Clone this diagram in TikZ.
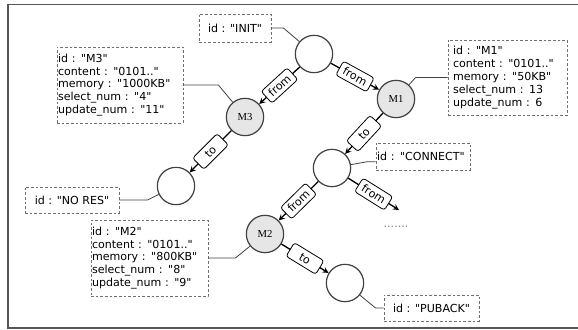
\documentclass[tikz,border=0pt]{standalone}
\usepackage{xcolor}
\usepackage{tikz}
\usepackage{fontspec}
\newfontfamily\infofont{DejaVu Sans}[Ligatures=TeXOff]
\newfontfamily\statefont{Liberation Serif}
\definecolor{frameGray}{HTML}{555555}
\definecolor{circleGray}{HTML}{404040}
\definecolor{msgFill}{HTML}{E6E6E6}
\definecolor{dashGray}{HTML}{707070}
\definecolor{linkGray}{HTML}{404040}
\tikzset{
  state/.style={circle,draw=circleGray,fill=white,line width=0.9pt,
    minimum size=28pt,inner sep=0pt},
  msgstate/.style={state,fill=msgFill,font=\statefont\fontsize{8}{9}\selectfont},
  info/.style={rectangle,draw=dashGray,dash pattern=on 2pt off 1.5pt,line width=0.6pt,
    fill=white,inner sep=0.75pt,font=\infofont\fontsize{8.3}{9.6}\selectfont},
  infoleft/.style={info,align=left},
  lbl/.style={rectangle,rounded corners=2pt,draw=black,fill=white,line width=0.6pt,sloped,
    inner xsep=3.5pt,inner ysep=2.5pt,minimum width=26pt,text height=1.5ex,text depth=0.1ex,
    font=\infofont\fontsize{8.3}{9.6}\selectfont},
  arrow/.style={->,>=stealth,line width=1pt},
  link/.style={draw=linkGray,line width=0.6pt}
}

\begin{document}
\begin{tikzpicture}[x=0.75pt,y=-0.75pt]
\useasboundingbox (0,0) rectangle (578,329);
\draw[frameGray,line width=1.1pt] (578,4.5) -- (8,4.5) -- (8,328) -- (578,328);

% states
\node[state] (init) at (314,54) {};
\node[msgstate] (m1) at (396,99) {M1};
\node[msgstate] (m3) at (245,117) {M3};
\node[state] (nores) at (176,186) {};
\node[state] (con) at (332,168) {};
\node[msgstate] (m2) at (265,234) {M2};
\node[state] (pub) at (345,283) {};
\coordinate (more) at (399,210);
\node[font=\infofont\fontsize{8.3}{9.6}\selectfont,text=gray] (dots) at (396,227) {.......};

% info boxes
\node[info,minimum width=54pt,minimum height=21pt] (initbox) at (235,28) {id : "INIT"};
\node[infoleft,text width=93pt,minimum height=57pt] (m3box) at (120,85)
  {id : "M3"\\content : "0101.."\\memory : "1000KB"\\select\_num : "4"\\update\_num : "11"};
\node[infoleft,inner xsep=3.75pt,text width=81.75pt,minimum height=56.25pt] (m1box) at (507.5,77.5)
  {id : "M1"\\content : "0101.."\\memory : "50KB"\\select\_num : 13\\update\_num : 6};
\node[infoleft,text width=69pt,minimum height=20.25pt] (conbox) at (423,156.5) {id : "CONNECT"};
\node[info,minimum width=70.5pt,minimum height=19.5pt] (noresbox) at (72,200) {id : "NO RES"};
\node[infoleft,text width=86.25pt,minimum height=57pt] (m2box) at (149.5,258)
  {id : "M2"\\content : "0101.."\\memory : "800KB"\\select\_num : "8"\\update\_num : "9"};
\node[info,minimum width=71.25pt,minimum height=19.5pt] (pubbox) at (431.5,308) {id : "PUBACK"};

% box links
\draw[link] (initbox.east) -- ++(12,0) -- (init);
\draw[link] (m3box.east) -- ++(35,0) -- (m3);
\draw[link] (m1box.west) -- ++(-32,0) -- (m1);
\draw[link] ([yshift=-4pt]conbox.west) -- ++(-9,0) -- (con);
\draw[link] (noresbox.east) -- ++(28,0) -- (nores);
\draw[link] (m2box.east) -- ++(27,0) -- (m2);
\draw[link] (pubbox.west) -- ++(-8,0) -- (pub);

% transitions
\draw[arrow] (init) -- node[lbl] {from} (m3);
\draw[arrow] (init) -- node[lbl] {from} (m1);
\draw[arrow] (m1) -- node[lbl] {to} (con);
\draw[arrow] (m3) -- node[lbl] {to} (nores);
\draw[arrow] (con) -- node[lbl] {from} (m2);
\draw[arrow] (con) -- node[lbl] {from} (more);
\draw[arrow] (m2) -- node[lbl] {to} (pub);
\end{tikzpicture}
\end{document}
